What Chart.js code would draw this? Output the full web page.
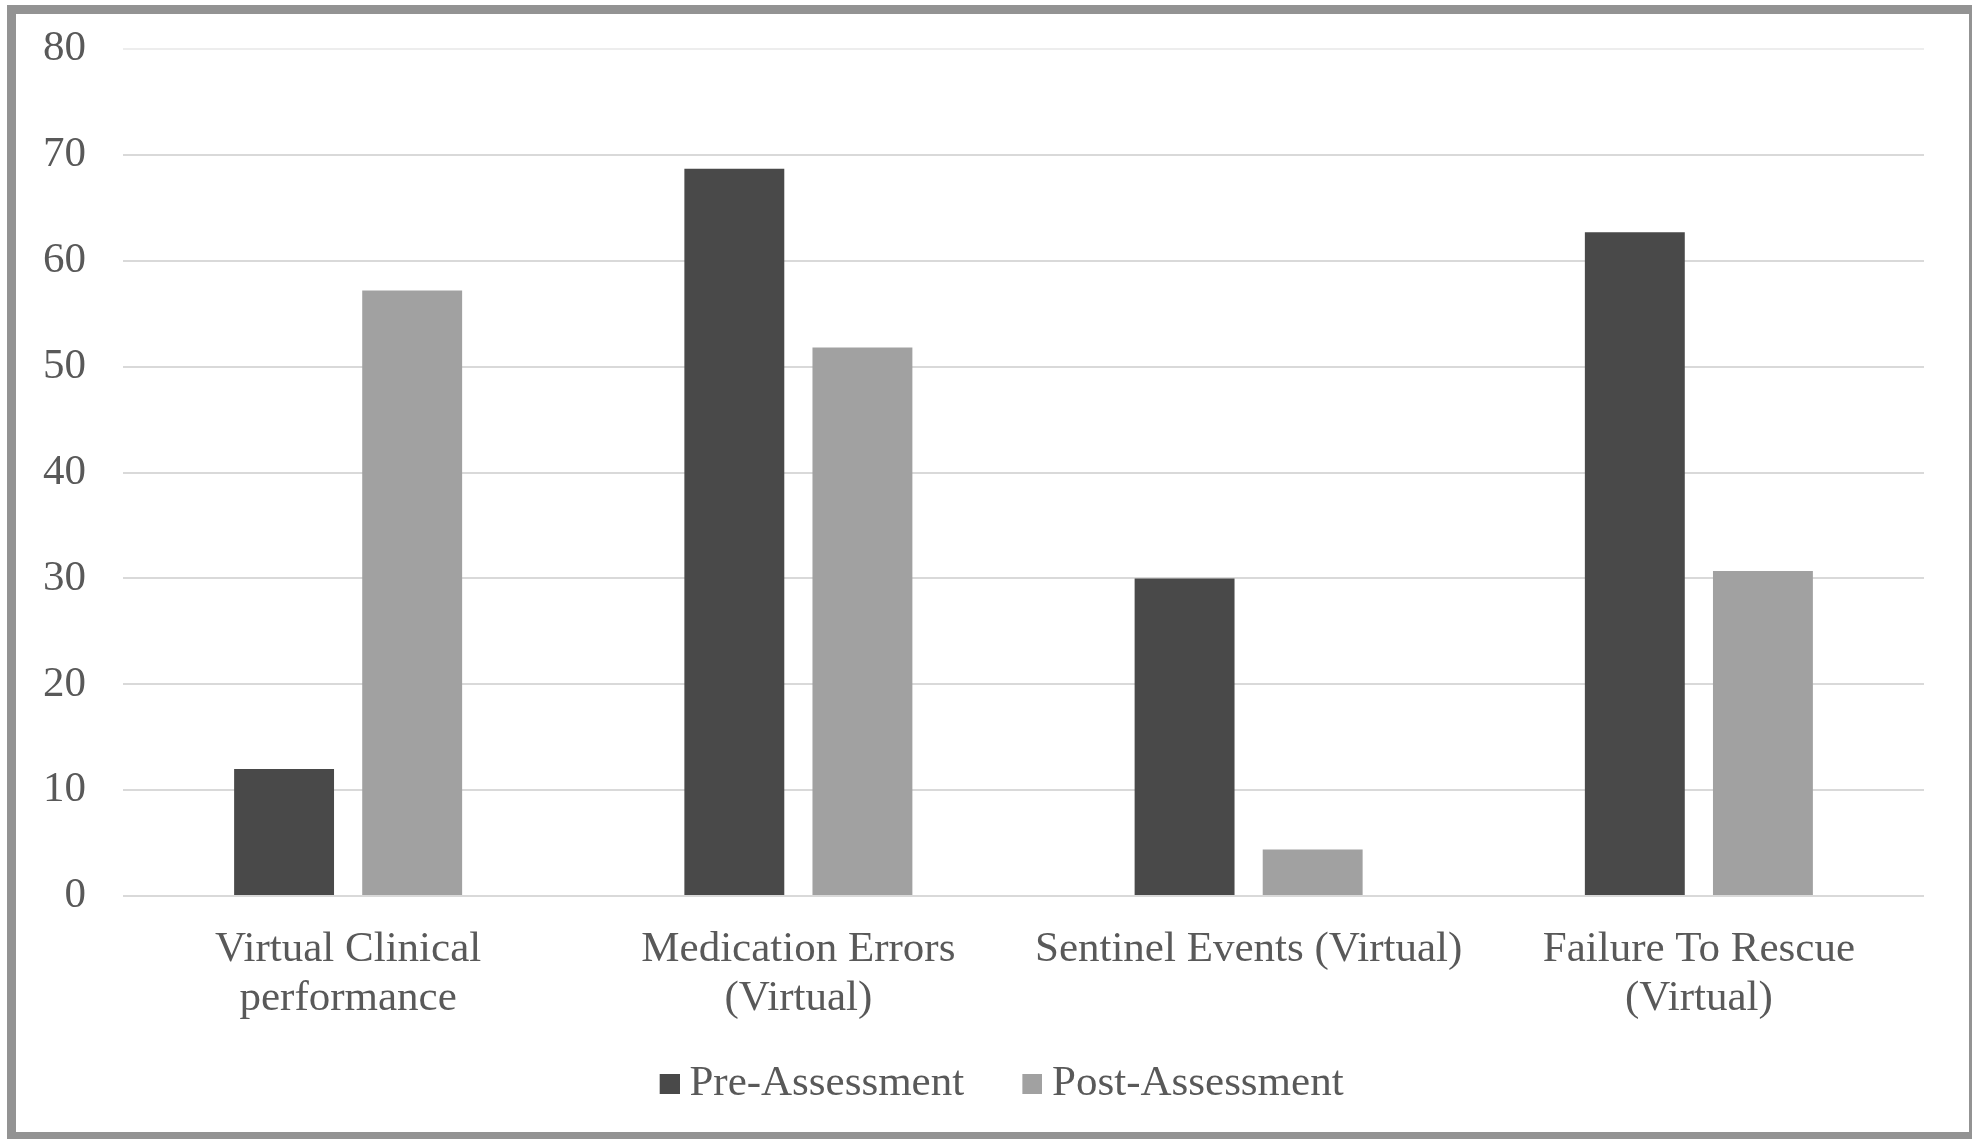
<!DOCTYPE html>
<html>
<head>
<meta charset="utf-8">
<script src="https://cdn.jsdelivr.net/npm/chart.js@4/dist/chart.umd.min.js"></script>
<style>
  html, body { margin: 0; padding: 0; background: #ffffff; }
  #frame {
    position: absolute;
    left: 7px; top: 5px;
    width: 1953px; height: 1118px;
    border-style: solid;
    border-color: #939393;
    border-width: 9px 3px 7px 9px;
    background: #ffffff;
  }
  #chart { display: block; }
</style>
</head>
<body>
<div id="frame"><canvas id="chart" width="1953" height="1118"></canvas></div>
<script>
// Categories (multi-line axis labels)
const categories = [
  ['Virtual Clinical', 'performance'],
  ['Medication Errors', '(Virtual)'],
  ['Sentinel Events (Virtual)'],
  ['Failure To Rescue', '(Virtual)']
];

// Series values
const preAssessment  = [12.0, 68.7, 30.0, 62.7];
const postAssessment = [57.2, 51.8, 4.4, 30.7];

// Y axis ticks
const yTicks = [0, 10, 20, 30, 40, 50, 60, 70, 80];

const seriesColors = ['#494949', '#a1a1a1'];
const textColor = '#595959';
const fontFamily = '"Liberation Serif", "Times New Roman", serif';

// Legend swatch: a 20px square placed at the right end of a wider
// transparent canvas, so the square sits close to its label text.
const SWATCH_LAYOUT_W = 46.5;
function makeSwatch(color) {
  const c = document.createElement('canvas');
  c.width = 70;
  c.height = 20;
  const g = c.getContext('2d');
  g.fillStyle = color;
  g.fillRect(c.width - 20, 0, 20, 20);
  return c;
}
const swatches = seriesColors.map(makeSwatch);

new Chart(document.getElementById('chart'), {
  type: 'bar',
  data: {
    labels: categories,
    datasets: [
      {
        label: 'Pre-Assessment',
        data: preAssessment,
        backgroundColor: seriesColors[0],
        borderWidth: 0,
        categoryPercentage: 0.569,
        barPercentage: 0.78
      },
      {
        label: 'Post-Assessment',
        data: postAssessment,
        backgroundColor: seriesColors[1],
        borderWidth: 0,
        categoryPercentage: 0.569,
        barPercentage: 0.78
      }
    ]
  },
  options: {
    responsive: false,
    animation: false,
    layout: { padding: { left: 25, right: 45, top: 35, bottom: 16.5 } },
    plugins: {
      tooltip: { enabled: false },
      legend: {
        position: 'bottom',
        labels: {
          color: textColor,
          font: { family: fontFamily, size: 43 },
          usePointStyle: true,
          pointStyleWidth: SWATCH_LAYOUT_W,
          boxHeight: 20,
          padding: 20,
          generateLabels: (chart) => {
            const items = Chart.defaults.plugins.legend.labels.generateLabels(chart);
            items.forEach((item, i) => { item.pointStyle = swatches[i]; });
            return items;
          }
        }
      }
    },
    scales: {
      x: {
        grid: { display: false },
        border: { display: false },
        ticks: {
          color: textColor,
          font: { family: fontFamily, size: 43, lineHeight: 1.15 },
          padding: 21,
          maxRotation: 0,
          autoSkip: false
        },
        afterFit: (scale) => { scale.height = 146.5; }
      },
      y: {
        min: 0,
        max: 80,
        afterBuildTicks: (scale) => { scale.ticks = yTicks.map(v => ({ value: v })); },
        grid: {
          color: (ctx) => ctx.tick && ctx.tick.value === 80 ? '#ededed' : '#d9d9d9',
          lineWidth: 2,
          drawTicks: false
        },
        border: { display: false },
        ticks: {
          color: textColor,
          font: { family: fontFamily, size: 43 },
          padding: 37
        },
        afterFit: (scale) => {
          scale.width = 82;
          scale.paddingTop = 26;
          scale.paddingBottom = 26;
        }
      }
    }
  }
});
</script>
</body>
</html>
